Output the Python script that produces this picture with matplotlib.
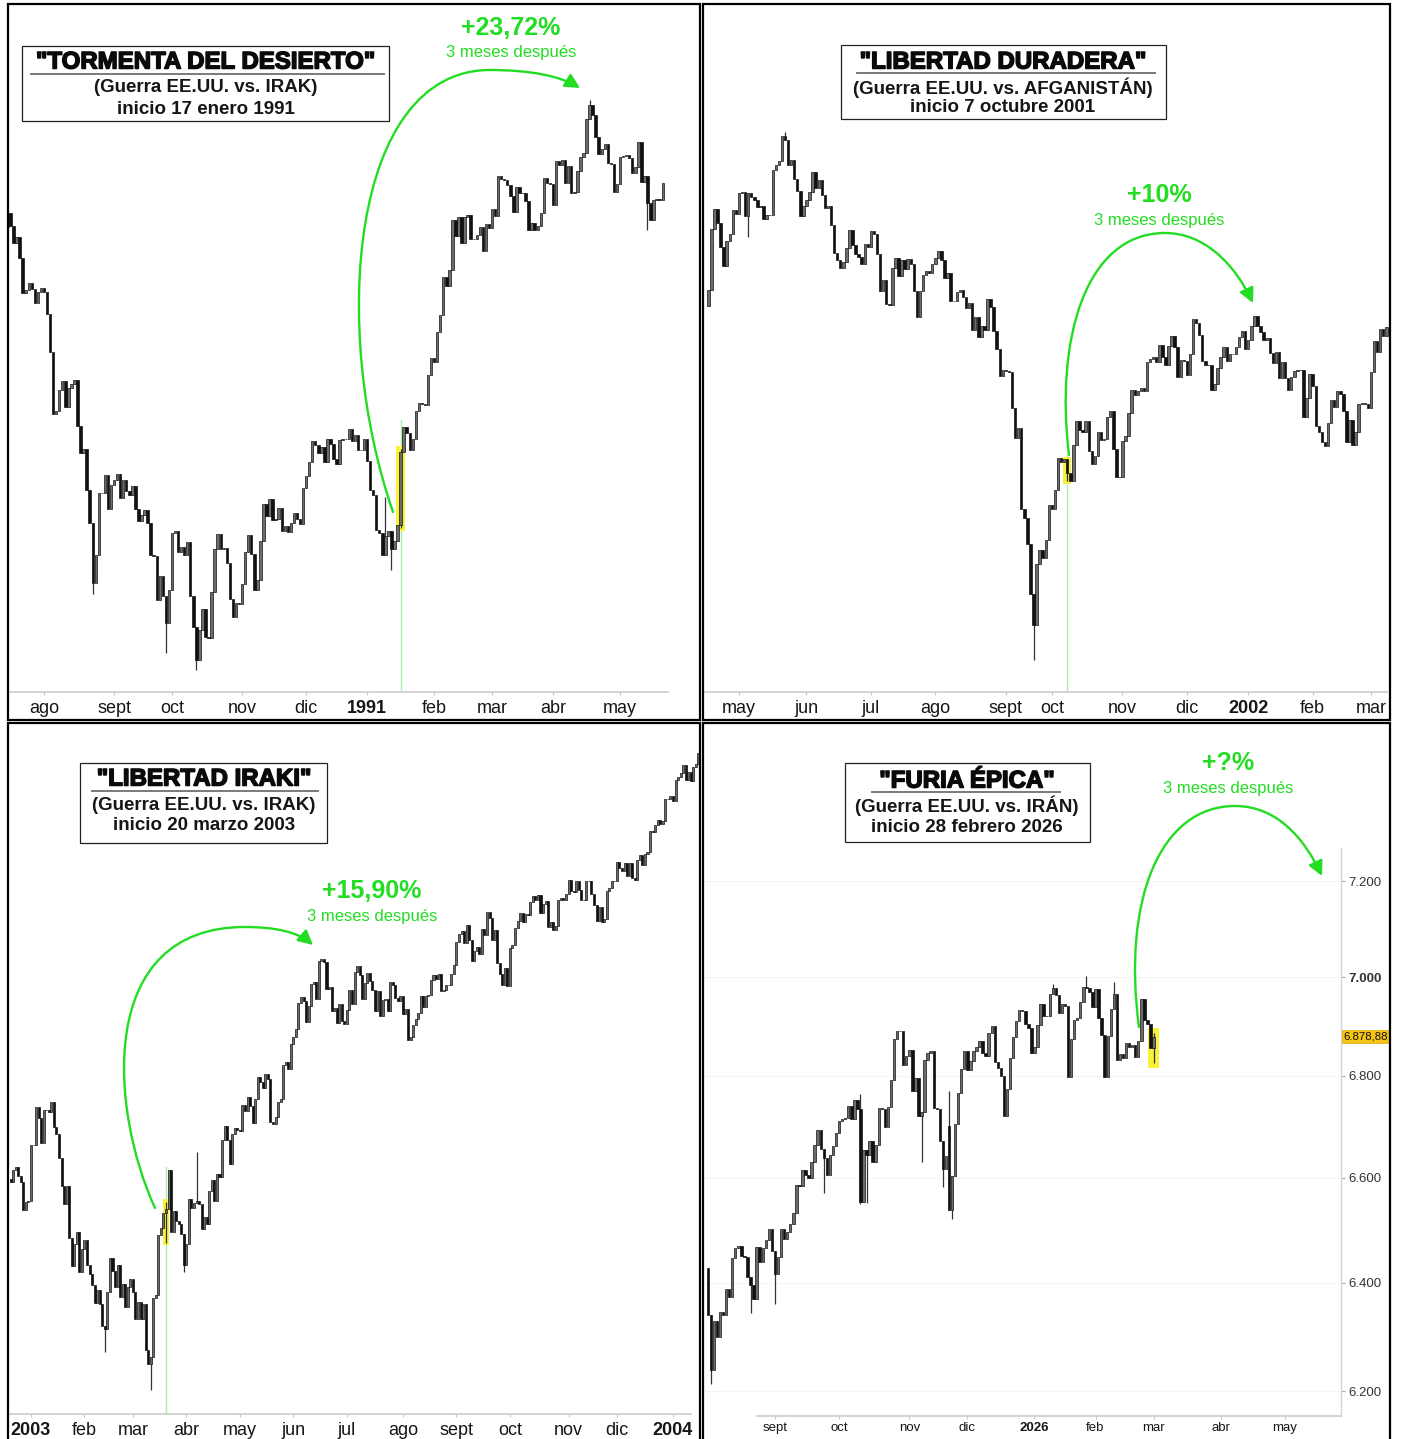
import numpy as np
import matplotlib
matplotlib.use("Agg")
import matplotlib.pyplot as plt
import matplotlib.transforms as mtransforms
import matplotlib.patheffects as pe
from matplotlib import font_manager as fm
from matplotlib.patches import Rectangle, FancyArrowPatch
from matplotlib.lines import Line2D
from matplotlib.path import Path
from matplotlib.ticker import NullLocator, NullFormatter, FixedLocator, FixedFormatter

# ============================ DATA ============================
# Panel 1: S&P 500, 16 Jul 1990 - 21 May 1991 (daily closes)
P1_CLOSE = [
    369.8, 367.5, 364.2, 365.3, 361.6, 355.3, 355.8, 357.1, 355.9, 353.4, 355.5, 356.2,
    355.5, 351.5, 344.9, 334.4, 334.8, 338.4, 339.9, 335.5, 338.8, 339.4, 340.1, 332.4,
    327.8, 328.5, 321.9, 316.6, 307.1, 311.5, 321.4, 321.3, 324.2, 318.7, 322.6,
    323.4, 324.4, 320.5, 323.4, 321.6, 321.0, 322.5, 318.7, 316.8, 317.8, 318.6, 316.6,
    311.5, 311.3, 304.6, 308.3, 305.1, 301.0, 306.1,
    314.9, 315.2, 312.0, 312.7, 311.5, 313.5, 305.1, 300.4, 295.5, 300.0, 303.2, 298.9,
    298.8, 305.7, 312.5, 314.8, 312.4, 312.6, 310.2, 304.7, 301.9, 304.1, 304.0,
    307.0, 311.9, 314.6, 311.6, 306.0, 307.6, 313.7, 319.5, 317.7, 320.4, 317.0, 317.1,
    318.9, 315.3, 316.0, 315.1, 316.5, 318.1, 317.2, 316.4, 322.2,
    324.1, 326.4, 329.9, 329.1, 327.8, 328.9, 326.4, 330.2, 329.3, 326.8, 326.0, 330.0,
    330.2, 330.1, 331.8, 329.9, 330.9, 328.3, 328.3, 330.2,
    326.5, 321.9, 321.0, 315.4, 314.9, 311.5, 314.5, 315.2, 312.5, 313.7, 316.2, 328.0,
    332.2, 331.1, 328.3, 330.2, 334.8, 336.1, 336.0, 335.8, 340.9, 343.9,
    343.1, 348.3, 351.3, 358.1, 356.5, 359.4, 368.6, 365.5, 369.0, 364.2, 369.1, 369.4,
    365.1, 365.0, 365.7, 367.3, 362.8, 367.7, 367.1,
    370.5, 369.3, 376.7, 376.2, 375.9, 375.0, 373.0, 370.0, 374.6, 373.5, 373.6, 372.1,
    366.6, 367.9, 366.6, 367.5, 369.8, 376.3, 375.4, 375.2,
    371.3, 379.5, 378.9, 379.8, 375.4, 378.7, 373.6, 373.7, 377.6, 380.4, 381.2, 387.6,
    390.5, 388.5, 384.2, 381.0, 381.8, 382.8, 379.3, 379.0, 373.7, 375.3,
    380.3, 380.5, 380.8, 380.1, 377.3, 378.5, 383.2, 375.7, 376.8, 371.6, 368.6, 372.2,
    372.4, 372.3, 375.4,
]
P1_FIRST_OPEN = 367.3
P1_LOW_OVR = {28: 305.5, 52: 296.5, 62: 294.0, 126: 309.2, 129: 315.8, 210: 366.7}
P1_HIGH_OVR = {124: 320.7, 129: 328.5, 191: 391.3}
P1_EVENT = 129
P1_TICK_IDX = [12, 35, 54, 77, 98, 118, 140, 159, 179, 201]
P1_TICK_LABELS = ["ago", "sept", "oct", "nov", "dic", "1991", "feb", "mar", "abr", "may"]
P1_TITLE = ['"TORMENTA DEL DESIERTO"', "(Guerra EE.UU. vs. IRAK)", "inicio 17 enero 1991"]
P1_GAIN = "+23,72%"

# Panel 2: S&P 500, 17 Apr 2001 - 8 Mar 2002
P2_CLOSE = [
    1191.8, 1238.2, 1253.7, 1243.0, 1224.4, 1209.5, 1228.8, 1234.5, 1253.1, 1249.5,
    1266.4, 1267.4, 1248.6, 1266.6, 1263.5, 1261.2, 1255.5, 1255.8, 1245.7, 1248.9, 1249.4,
    1285.0, 1288.5, 1292.0, 1312.8, 1309.4, 1289.1, 1293.2, 1277.9, 1267.9, 1248.1, 1255.8,
    1260.7, 1267.1, 1283.6, 1270.0, 1277.0, 1265.0, 1254.4, 1255.9, 1241.6, 1219.9, 1214.4,
    1208.4, 1212.6, 1223.1, 1237.0, 1225.4, 1218.6, 1216.8, 1211.1, 1226.2, 1224.4,
    1236.7, 1234.5, 1219.2, 1190.6, 1198.8, 1181.5, 1180.2, 1208.1, 1215.7, 1202.5, 1214.4,
    1207.7, 1215.0, 1210.9, 1191.0, 1171.7, 1190.5, 1202.9, 1205.8, 1204.5, 1211.2,
    1215.9, 1220.8, 1214.4, 1200.5, 1204.4, 1183.5, 1183.4, 1190.2, 1191.3, 1186.7, 1178.0,
    1181.7, 1162.0, 1171.4, 1157.3, 1165.3, 1162.1, 1184.9, 1179.2, 1161.5, 1148.6, 1129.0, 1133.6,
    1132.9, 1131.7, 1106.4, 1085.8, 1092.5, 1038.8, 1032.7, 1016.1, 984.5, 965.8, 1003.5,
    1012.3, 1007.0, 1018.6, 1040.9,
    1038.6, 1051.3, 1072.3, 1069.6, 1071.4, 1062.4, 1056.8, 1081.0, 1097.4, 1091.7, 1090.0,
    1097.5, 1077.1, 1068.6, 1073.5, 1089.9, 1084.8, 1085.2, 1100.1, 1104.6, 1078.3, 1059.8, 1059.8,
    1084.1, 1087.2, 1102.8, 1118.9, 1115.8, 1118.5, 1120.3, 1118.3, 1139.1, 1141.2, 1142.2,
    1138.7, 1151.1, 1142.7, 1137.0, 1150.3, 1157.4, 1149.5, 1128.5, 1140.2, 1139.5,
    1129.9, 1144.8, 1170.4, 1167.1, 1158.3, 1139.9, 1136.8, 1137.1, 1119.4, 1123.1, 1134.4,
    1142.9, 1149.6, 1139.9, 1144.9, 1144.7, 1149.4, 1157.1, 1161.0, 1148.1,
    1154.7, 1165.3, 1172.5, 1164.9, 1160.7, 1155.1, 1156.6, 1145.6, 1138.4, 1146.2, 1127.6,
    1138.9, 1127.6, 1119.3, 1128.2, 1132.2, 1133.1, 1133.1, 1100.6, 1113.6, 1130.2,
    1122.2, 1094.4, 1090.0, 1083.5, 1080.2, 1096.2, 1111.9, 1107.5, 1118.5, 1116.5, 1104.2,
    1083.3, 1098.0, 1081.0, 1089.8, 1109.4, 1109.9, 1109.4, 1106.7,
    1131.8, 1153.8, 1146.1, 1162.8, 1157.5, 1164.3,
]
P2_FIRST_OPEN = 1179.7
P2_LOW_OVR = {13: 1232.0, 106: 944.8, 117: 1056.9}
P2_HIGH_OVR = {25: 1315.9, 117: 1071.4}
P2_EVENT = 117
P2_TICK_IDX = [10, 32, 53, 74, 97, 112, 135, 156, 176, 197, 216]
P2_TICK_LABELS = ["may", "jun", "jul", "ago", "sept", "oct", "nov", "dic", "2002", "feb", "mar"]
P2_TITLE = ['"LIBERTAD DURADERA"', "(Guerra EE.UU. vs. AFGANISTÁN)", "inicio 7 octubre 2001"]
P2_GAIN = "+10%"

# Panel 3: S&P 500, 19 Dec 2002 - 16 Jan 2004
P3_CLOSE = [
    889.8, 895.8, 897.4, 892.5, 889.7, 875.4, 879.4, 879.8,
    909.0, 908.6, 929.0, 922.9, 909.9, 927.6, 927.6, 926.3, 931.7, 918.2, 914.6, 901.8,
    887.6, 878.4, 887.3, 861.4, 847.5, 858.5, 864.4, 844.6, 855.7,
    860.3, 848.2, 843.6, 838.2, 829.7, 836.0, 829.2, 818.7, 817.4, 834.9, 851.2, 845.1,
    837.1, 848.2, 832.6, 838.6, 827.6, 837.3, 841.2,
    834.8, 822.0, 829.9, 822.1, 828.9, 807.5, 800.7, 804.2, 831.9, 833.3, 862.8, 866.5,
    874.0, 875.7, 895.8, 864.2, 874.7, 870.0, 868.5, 863.5, 848.2,
    858.5, 880.9, 876.5, 878.9, 879.9, 878.3, 866.0, 871.6, 868.3, 885.2, 890.8, 879.9,
    893.6, 892.0, 911.4, 919.0, 911.4, 898.8, 914.8, 917.8, 916.9,
    916.3, 930.1, 926.6, 934.4, 929.6, 920.3, 933.4, 945.1, 942.3, 939.3, 946.7, 944.3,
    920.8, 919.7, 923.4, 931.9, 933.2, 951.5, 953.2, 949.6, 963.6,
    967.0, 971.6, 986.2, 990.1, 987.8, 975.9, 984.8, 997.5, 998.5, 988.6, 1010.7, 1011.7,
    1010.1, 994.7, 995.7, 981.6, 983.5, 975.3, 985.8, 976.2, 974.5,
    982.3, 993.8, 985.7, 1004.4, 1007.8, 1002.2, 988.7, 998.1, 1003.9, 998.9, 994.1, 981.7,
    993.3, 978.8, 988.1, 988.6, 981.6, 998.7, 996.5, 989.3, 987.5, 990.3,
    980.2, 982.8, 965.5, 967.1, 974.1, 977.6, 980.6, 990.4, 984.0, 990.5, 990.7, 999.7,
    1002.4, 1000.3, 1003.3, 993.1, 993.7, 996.7, 996.8, 1002.8, 1008.0,
    1022.0, 1026.3, 1028.0, 1021.4, 1031.6, 1023.2, 1010.9, 1016.4, 1018.6, 1014.8, 1029.3,
    1026.0, 1039.6, 1036.3, 1022.8, 1029.0, 1009.4, 1003.3, 996.9, 1006.6, 996.0,
    1018.2, 1020.2, 1029.9, 1034.4, 1039.3, 1033.8, 1038.7, 1038.1, 1045.4, 1049.5, 1046.8,
    1050.1, 1039.3, 1044.7, 1046.0, 1030.4, 1033.8, 1028.9, 1031.1, 1046.8, 1048.1, 1046.9, 1050.7,
    1059.0, 1052.0, 1051.8, 1058.1, 1053.2, 1047.1, 1046.6, 1058.5, 1058.4, 1050.4, 1043.6,
    1034.2, 1042.4, 1033.7, 1035.3, 1052.1, 1053.9, 1058.5, 1058.2,
    1070.1, 1066.6, 1064.7, 1069.7, 1061.5, 1069.3, 1060.2, 1059.1, 1071.2, 1074.1, 1068.0,
    1075.1, 1076.5, 1089.2, 1088.7, 1092.9, 1096.0, 1094.0, 1095.9, 1109.5, 1109.6, 1111.9,
    1108.5, 1122.2, 1123.7, 1126.3, 1131.9, 1121.9, 1127.2, 1121.2, 1130.5, 1132.1, 1139.8,
]
P3_FIRST_OPEN = 891.1
P3_LOW_OVR = {37: 806.3, 55: 788.9, 61: 859.0, 68: 844.5}
P3_HIGH_OVR = {61: 879.6, 62: 895.9, 73: 904.9}
P3_EVENT = 61
P3_TICK_IDX = [8, 29, 48, 69, 90, 111, 132, 154, 175, 196, 219, 238, 260]
P3_TICK_LABELS = ["2003", "feb", "mar", "abr", "may", "jun", "jul", "ago", "sept", "oct",
                  "nov", "dic", "2004"]
P3_TITLE = ['"LIBERTAD IRAKI"', "(Guerra EE.UU. vs. IRAK)", "inicio 20 marzo 2003"]
P3_GAIN = "+15,90%"

# Panel 4: S&P 500, 31 Jul 2025 - 2 Mar 2026
P4_CLOSE = [
    6339,
    6238, 6329, 6299, 6345, 6340, 6389, 6374, 6446, 6466, 6469, 6450, 6449, 6411, 6396,
    6370, 6467, 6439, 6466, 6481, 6502, 6460,
    6416, 6448, 6502, 6482, 6495, 6512, 6532, 6587, 6584, 6615, 6606, 6600, 6631, 6664,
    6693, 6656, 6638, 6605, 6644, 6661, 6688,
    6711, 6715, 6716, 6740, 6714, 6753, 6735, 6553, 6654, 6644, 6671, 6630, 6664, 6736,
    6735, 6699, 6738, 6792, 6875, 6891, 6890, 6822, 6840,
    6852, 6771, 6796, 6720, 6729, 6832, 6846, 6850, 6737, 6734, 6672, 6617, 6642, 6538,
    6603, 6705, 6766, 6813, 6849,
    6812, 6829, 6850, 6857, 6870, 6846, 6840, 6887, 6901, 6827, 6816, 6800, 6721, 6775,
    6835, 6878, 6910, 6932, 6930, 6905, 6896, 6845,
    6858, 6902, 6944, 6921, 6921, 6966, 6977, 6963, 6926, 6944, 6940, 6797, 6875, 6913,
    6916, 6950, 6979, 6978, 6969, 6939,
    6976, 6917, 6883, 6798, 6880, 6935, 6965, 6832, 6843, 6836, 6866, 6858, 6862, 6838,
    6870, 6955, 6912, 6905, 6855,
    6878.88,
]
P4_FIRST_OPEN = 6427
P4_OPEN_OVR = {79: 6700}
P4_LOW_OVR = {1: 6212, 14: 6343, 22: 6360, 38: 6570, 50: 6550, 52: 6552, 70: 6631,
              77: 6583, 80: 6521, 146: 6826}
P4_HIGH_OVR = {0: 6427, 50: 6764, 79: 6770, 113: 6986, 124: 7002, 133: 6990, 146: 6886}
P4_EVENT = 146
P4_TICK_IDX = [22, 43, 66, 85, 107, 127, 146, 168, 189]
P4_TICK_LABELS = ["sept", "oct", "nov", "dic", "2026", "feb", "mar", "abr", "may"]
P4_YTICKS = [6200, 6400, 6600, 6800, 7000, 7200]
P4_YLABELS = ["6.200", "6.400", "6.600", "6.800", "7.000", "7.200"]
P4_LAST_LABEL = "6.878,88"
P4_TITLE = ['"FURIA ÉPICA"', "(Guerra EE.UU. vs. IRÁN)", "inicio 28 febrero 2026"]
P4_GAIN = "+?%"

SUBTEXT = "3 meses después"

# ============================ LAYOUT ============================
W, H = 1402, 1439
fig = plt.figure(figsize=(W / 100, H / 100), dpi=100)
fig.patch.set_facecolor("white")

names = {f.name for f in fm.fontManager.ttflist}
BASE = "Liberation Sans" if "Liberation Sans" in names else "DejaVu Sans"
HAS_NARROW = "Liberation Sans Narrow" in names
NARROW = "Liberation Sans Narrow" if HAS_NARROW else BASE
plt.rcParams["font.family"] = [BASE, "DejaVu Sans"]

GREEN = "#22dd22"
UP_FACE, UP_EDGE, DN_FACE = "#6c6c6c", "#141414", "#111111"


def fx(x):
    return x / W


def fy(y):
    return 1 - y / H


def make_axes(l, t, r, b):
    ax = fig.add_axes([l / W, 1 - b / H, (r - l) / W, (b - t) / H])
    ax.patch.set_alpha(0)
    for s in ax.spines.values():
        s.set_visible(False)
    ax.set_yscale("log")
    return ax


def clear_y(ax):
    ax.yaxis.set_major_locator(NullLocator())
    ax.yaxis.set_minor_locator(NullLocator())
    ax.yaxis.set_major_formatter(NullFormatter())
    ax.yaxis.set_minor_formatter(NullFormatter())
    ax.tick_params(axis="y", which="both", left=False, right=False,
                   labelleft=False, labelright=False)


def setup_x(ax, l, r, x0, step, ticks, labels, line_l, line_r, fs, family, pad):
    ax.set_xlim((l - x0) / step, (r - x0) / step)
    sp = ax.spines["bottom"]
    sp.set_visible(True)
    sp.set_color("#d0d0d0")
    sp.set_linewidth(1.3)
    sp.set_bounds((line_l - x0) / step, (line_r - x0) / step)
    ax.xaxis.set_major_locator(FixedLocator(ticks))
    ax.xaxis.set_major_formatter(FixedFormatter(labels))
    ax.xaxis.set_minor_locator(NullLocator())
    ax.tick_params(axis="x", which="major", direction="out", length=2.5, width=0.8,
                   color="#c4c4c4", pad=pad, labelsize=fs, labelcolor="#161616")
    for tick, lab in zip(ax.xaxis.get_major_ticks(), labels):
        tick.label1.set_fontfamily(family)
        if lab.isdigit():
            tick.label1.set_fontweight("bold")


def candles(ax, closes, first_open, lo_ovr, hi_ovr, op_ovr=None):
    c = np.asarray(closes, float)
    o = np.r_[first_open, c[:-1]]
    for i, v in (op_ovr or {}).items():
        o[i] = v
    hi = np.maximum(o, c)
    lo = np.minimum(o, c)
    for i, v in lo_ovr.items():
        lo[i] = min(lo[i], v)
    for i, v in hi_ovr.items():
        hi[i] = max(hi[i], v)
    x = np.arange(len(c))
    wick = (hi > np.maximum(o, c)) | (lo < np.minimum(o, c))
    ax.vlines(x[wick], lo[wick], hi[wick], colors="#333333", linewidth=0.9, zorder=2)
    up = c >= o
    ax.bar(x[up], (c - o)[up], bottom=o[up], width=0.8, color=UP_FACE,
           edgecolor=UP_EDGE, linewidth=0.5, zorder=3)
    ax.bar(x[~up], (o - c)[~up], bottom=c[~up], width=0.8, color=DN_FACE,
           edgecolor=DN_FACE, linewidth=0.5, zorder=3)
    return lo, hi


def highlight(ax, i, lo, hi, hw):
    y0 = lo[i] * 0.9985
    y1 = hi[i] * 1.0015
    ax.add_patch(Rectangle((i - hw, y0), 2 * hw, y1 - y0, facecolor="#f8f23a",
                           edgecolor="none", zorder=1.5))


def event_line(ax, i, frac):
    ax.axvline(i, ymin=0, ymax=frac, color="#a8eea8", lw=1.0, zorder=1)


def title_box(box, cx, ys, ul, lines):
    x0, y0, x1, y1 = box
    fig.add_artist(Rectangle((fx(x0), fy(y1)), (x1 - x0) / W, (y1 - y0) / H,
                             transform=fig.transFigure, facecolor="white",
                             edgecolor="#222222", lw=0.9, zorder=9))
    fig.text(fx(cx), fy(ys[0]), lines[0], ha="center", va="center", fontsize=17.3,
             fontweight="bold", color="#0a0a0a", zorder=10,
             path_effects=[pe.withStroke(linewidth=1.1, foreground="#0a0a0a")])
    fig.add_artist(Line2D([fx(ul[0]), fx(ul[1])], [fy(ul[2]), fy(ul[2])],
                          transform=fig.transFigure, color="#7a7a7a", lw=1.4, zorder=10))
    fig.text(fx(cx), fy(ys[1]), lines[1], ha="center", va="center", fontsize=13.5,
             fontweight="bold", color="#161616", zorder=10)
    fig.text(fx(cx), fy(ys[2]), lines[2], ha="center", va="center", fontsize=13.5,
             fontweight="bold", color="#161616", zorder=10)


def gain_text(cx, cy1, cy2, gain):
    fig.text(fx(cx), fy(cy1), gain, ha="center", va="center", fontsize=18,
             fontweight="bold", color=GREEN, zorder=10)
    fig.text(fx(cx), fy(cy2), SUBTEXT, ha="center", va="center", fontsize=12,
             color=GREEN, zorder=10)


def green_arrow(pts):
    verts = [(fx(x), fy(y)) for x, y in pts]
    codes = [Path.MOVETO] + [Path.CURVE4] * 6
    arr = FancyArrowPatch(path=Path(verts, codes),
                          arrowstyle="-|>,head_length=0.55,head_width=0.28",
                          mutation_scale=16, color=GREEN, lw=1.7,
                          transform=fig.transFigure, zorder=11)
    fig.add_artist(arr)


# ---------------- Panel 1 ----------------
ax1 = make_axes(9, 5, 699, 692)
lo1, hi1 = candles(ax1, P1_CLOSE, P1_FIRST_OPEN, P1_LOW_OVR, P1_HIGH_OVR)
highlight(ax1, P1_EVENT, lo1, hi1, 1.6)
event_line(ax1, P1_EVENT, (692 - 420) / (692 - 5))
setup_x(ax1, 9, 699, 7.4, 3.048, P1_TICK_IDX, P1_TICK_LABELS, 8, 668, 13, BASE, 3)
clear_y(ax1)
ax1.set_ylim(290.8, 410.5)

# ---------------- Panel 2 ----------------
ax2 = make_axes(704, 5, 1389, 692)
lo2, hi2 = candles(ax2, P2_CLOSE, P2_FIRST_OPEN, P2_LOW_OVR, P2_HIGH_OVR)
highlight(ax2, P2_EVENT, lo2, hi2, 1.3)
event_line(ax2, P2_EVENT, (692 - 455) / (692 - 5))
setup_x(ax2, 704, 1389, 708.3, 3.068, P2_TICK_IDX, P2_TICK_LABELS, 704, 1387, 13, BASE, 3)
clear_y(ax2)
ax2.set_ylim(925.9, 1425.0)

# ---------------- Panel 3 ----------------
ax3 = make_axes(9, 725, 699, 1414)
lo3, hi3 = candles(ax3, P3_CLOSE, P3_FIRST_OPEN, P3_LOW_OVR, P3_HIGH_OVR)
highlight(ax3, P3_EVENT, lo3, hi3, 1.0)
event_line(ax3, P3_EVENT, (1414 - 1167) / (1414 - 725))
setup_x(ax3, 9, 699, 10.6, 2.5476, P3_TICK_IDX, P3_TICK_LABELS, 8, 691, 13, BASE, 3)
clear_y(ax3)
ax3.set_ylim(778.1, 1158.1)

# ---------------- Panel 4 ----------------
ax4 = make_axes(704, 848, 1341, 1416)
lo4, hi4 = candles(ax4, P4_CLOSE, P4_FIRST_OPEN, P4_LOW_OVR, P4_HIGH_OVR, P4_OPEN_OVR)
highlight(ax4, P4_EVENT, lo4, hi4, 1.8)
x_fs4 = 10.5 if HAS_NARROW else 9.5
setup_x(ax4, 704, 1341, 707.8, 3.053, P4_TICK_IDX, P4_TICK_LABELS, 757, 1341, x_fs4, NARROW, 2)
ax4.spines["right"].set_visible(True)
ax4.spines["right"].set_color("#d6d6d6")
ax4.spines["right"].set_linewidth(1.0)
ax4.yaxis.set_major_locator(FixedLocator(P4_YTICKS))
ax4.yaxis.set_major_formatter(FixedFormatter(P4_YLABELS))
ax4.yaxis.set_minor_locator(NullLocator())
ax4.yaxis.set_minor_formatter(NullFormatter())
ax4.yaxis.tick_right()
y_fs4 = 10.5 if HAS_NARROW else 9.5
ax4.tick_params(axis="y", which="major", right=True, labelright=True, left=False,
                labelleft=False, direction="out", length=3, width=0.8, color="#a8a8a8",
                pad=2, labelsize=y_fs4, labelcolor="#333333")
for tick, lab in zip(ax4.yaxis.get_major_ticks(), P4_YLABELS):
    tick.label2.set_fontfamily(NARROW)
    if lab == "7.000":
        tick.label2.set_fontweight("bold")
ax4.grid(axis="y", which="major", color="#f5f5f5", lw=0.8)
ax4.set_axisbelow(True)
ax4.set_ylim(6154.8, 7270)
trans = mtransforms.blended_transform_factory(ax4.transAxes, ax4.transData)
off = mtransforms.ScaledTranslation(2.5 / 100, 0, fig.dpi_scale_trans)
price_fs = 10 if HAS_NARROW else 8.2
ax4.text(1.0, P4_CLOSE[-1], P4_LAST_LABEL, transform=trans + off, ha="left", va="center",
         fontsize=price_fs, family=NARROW, color="#111111", clip_on=False, zorder=8,
         bbox=dict(boxstyle="square,pad=0.12", fc="#f3c316", ec="#d9ad00", lw=0.5))

# ---------------- Titles, annotations ----------------
title_box((22, 46, 389, 121), 205.5, (62, 88, 109), (31, 384, 74), P1_TITLE)
title_box((841, 45, 1166, 119), 1003, (62, 87.5, 108), (857, 1155, 73), P2_TITLE)
title_box((80, 763, 327, 843), 204, (779, 805, 826), (92, 318, 791), P3_TITLE)
title_box((845, 763, 1090, 842), 967, (781, 806, 827), (872, 1060, 792), P4_TITLE)

gain_text(511, 28, 52, P1_GAIN)
gain_text(1159, 195, 220, P2_GAIN)
gain_text(372, 891, 916, P3_GAIN)
gain_text(1228, 763, 788, P4_GAIN)

green_arrow([(393, 512), (330, 330), (350, 70), (490, 70), (530, 70), (560, 76), (580, 88)])
green_arrow([(1069, 455), (1055, 340), (1085, 233), (1165, 233), (1205, 233), (1235, 265), (1253, 303)])
green_arrow([(155, 1208), (110, 1110), (95, 927), (245, 927), (275, 927), (298, 932), (313, 945)])
green_arrow([(1139, 1027), (1122, 900), (1160, 806), (1235, 806), (1278, 806), (1305, 840), (1322, 876)])

# ---------------- Panel frames ----------------
for (x0, y0, x1, y1) in [(8, 4, 700, 720), (703, 4, 1390, 720),
                         (8, 723, 700, 1442), (703, 723, 1390, 1442)]:
    fig.add_artist(Rectangle((fx(x0), fy(y1)), (x1 - x0) / W, (y1 - y0) / H,
                             transform=fig.transFigure, fill=False, edgecolor="black",
                             lw=1.6, zorder=20))

fig.savefig("out.png", dpi=100, facecolor="white")
